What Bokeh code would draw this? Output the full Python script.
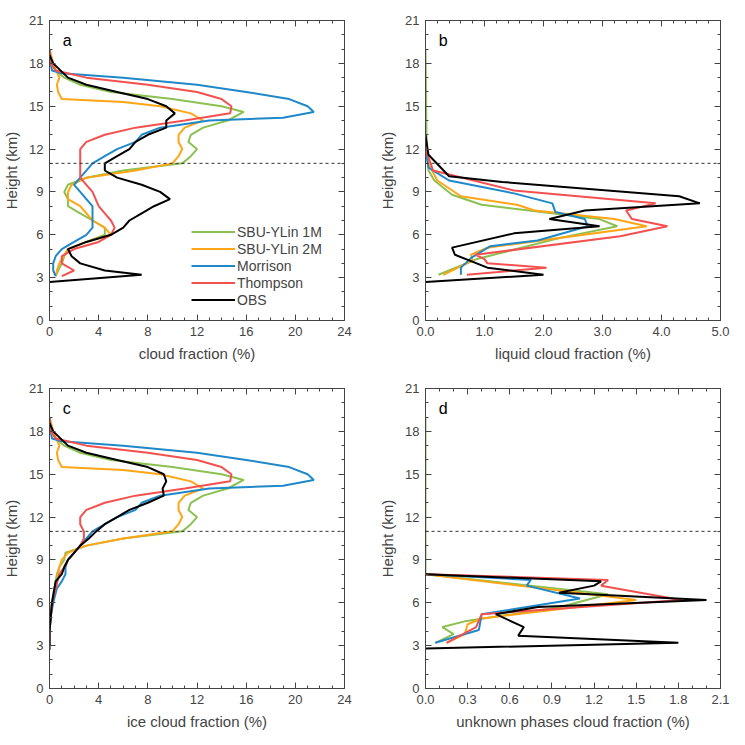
from bokeh.plotting import figure
from bokeh.layouts import gridplot
from bokeh.models import Span, Legend, LegendItem, LinearAxis, FixedTicker, NumeralTickFormatter, Range1d
from bokeh.core.properties import value
from bokeh.embed import file_html
from bokeh.resources import INLINE

names = ["SBU-YLin 1M", "SBU-YLin 2M", "Morrison", "Thompson", "OBS"]
colors = ["#8cc152", "#ffa516", "#1f88c9", "#f2514f", "#000000"]

# Panel a: cloud fraction (%)
a_h_1m = [3.1,3.5,4,4.5,5,5.5,6,6.5,7,7.5,8,8.5,9,9.5,10,10.5,11,11.5,12,12.5,13,13.5,14,14.6,15,15.5,16,16.5,17,17.5,18,19]
a_x_1m = [0.5,0.7,1,1.2,1.5,3,4.5,4.5,3.5,2.5,1.5,1.5,1.2,1.5,3,6,10.8,11.5,12,11.3,11.5,12.5,14.5,15.8,14,10,5,2.5,1.2,0.5,0.2,0]
a_h_2m = [3.1,3.5,4,5,5.5,6,6.5,7,8,8.5,9,9.5,10,10.5,11,11.5,12,12.5,13,13.5,14,14.5,15,15.3,15.5,16,16.5,17,18,19]
a_x_2m = [0.5,0.6,0.8,1.5,3,5,4.5,3.5,2.5,1.5,1.5,1.8,3,7,10,10.5,10.8,10.5,10.5,11,12.5,11.5,9,6,1,0.7,0.6,0.8,0.3,0]
a_h_mo = [3.1,3.5,4,4.5,5,5.5,6,6.5,7,7.5,8,8.5,9,9.5,10,11,11.5,12,12.5,13,13.5,14,14.2,14.6,15,15.5,16,16.5,17,17.3,17.5,18,19]
a_x_mo = [0.5,0.3,0.3,0.5,1,2,3,3.5,3.5,3.5,3.5,3,2.5,2,2.5,3.5,4.5,5.5,7,7.5,9,13,19,21.5,21,19.5,16,12,6,1,0.2,0.1,0]
a_h_th = [3.1,3.5,4,4.5,5,5.5,6,6.5,7,7.5,8,9,9.5,10,11,11.5,12,12.5,13,13.5,14,14.5,15,15.5,16,16.5,17,17.5,18,19]
a_x_th = [1,2,1,1,2,4,5,5.3,5,4.5,4,3.5,3,2.5,2.5,2.5,2.5,3,4.5,7,11,14.7,14.8,14,12,8,3,0.5,0.1,0]
a_h_ob = [2.7,3.2,3.5,4,4.5,5,5.5,6,6.5,7,7.5,8,8.5,9,9.5,10,10.5,11,11.5,12,12.5,13,13.5,14,14.5,15,15.5,16,16.5,17,18,18.6]
a_x_ob = [0,7.5,4.5,2.5,1.8,1.5,3,5,6,6.5,7.5,8.5,9.8,9,7.5,5.5,4.5,4.5,5.5,6.5,7,8,9.5,9.5,10.2,9.5,8,5.5,3,1.5,0.3,0]

# Panel b: liquid cloud fraction (%)
b_h_1m = [3.2,4.3,5.8,6.6,7.1,8.1,8.8,9.8,10.5,12,19]
b_x_1m = [0.22,0.87,2.3,3.25,2.95,0.95,0.45,0.15,0.05,0.02,0]
b_h_2m = [3.2,4.2,4.6,5.1,6.6,7.1,7.7,8.1,8.7,9.8,11,12.5]
b_x_2m = [0.3,0.8,0.77,1.05,3.75,3.2,1.85,1.55,0.6,0.2,0.05,0]
b_h_mo = [3.2,3.7,4.4,5.2,5.6,6.6,7.1,7.6,8.2,8.9,9.8,10.7,12]
b_x_mo = [0.6,0.6,0.78,1.1,1.9,2.75,2.7,2.2,2.15,1.5,0.4,0.05,0]
b_h_th = [3.2,3.7,4.0,4.3,4.6,5.9,6.6,7.1,7.7,8.2,9.1,10.5,12]
b_x_th = [0.7,2.05,1.05,1.0,0.85,3.3,4.1,3.5,3.4,3.9,1.5,0.13,0]
b_h_ob = [2.7,3.2,3.7,4.6,5.1,6.1,6.6,7.1,7.7,8.2,8.7,9.7,10.1,11.6,13]
b_x_ob = [0,2.0,1.05,0.5,0.45,1.5,2.95,2.1,2.7,4.65,4.3,1.3,0.4,0.05,0]

# Panel c: ice cloud fraction (%)
c_h_1m = [3,4,5,6,7,8,8.5,9,9.5,10,10.5,11,11.5,12,12.5,13,13.5,14,14.6,15,15.5,16,16.5,17,17.5,18,19]
c_x_1m = [0,0,0.1,0.2,0.4,0.6,0.8,1.2,1.3,3,6,10.8,11.5,12,11.3,11.5,12.5,14.5,15.8,14,10,5,2.5,1.2,0.5,0.2,0]
c_h_2m = [3,4,5,6,7,8,8.5,9,9.5,10,10.5,11,11.5,12,12.5,13,13.5,14,14.5,15,15.3,15.5,16,16.5,17,18,19]
c_x_2m = [0,0,0.1,0.2,0.5,0.7,0.8,1.0,1.5,3,6,10,10.5,10.8,10.5,10.5,11,12.5,11.5,9,6,1,0.7,0.6,0.8,0.3,0]
c_h_mo = [3,4,5,6,7,7.5,8,8.5,9,9.5,10,10.5,11,11.5,12,12.5,13,13.5,14,14.2,14.6,15,15.5,16,16.5,17,17.3,17.5,18,19]
c_x_mo = [0,0,0.1,0.3,0.6,1,1.3,1.3,1.5,2,2.5,3,3.5,4.5,5.5,7,7.5,9,13,19,21.5,21,19.5,16,12,6,1,0.2,0.1,0]
c_h_th = [3,4,5,6,7,8,8.5,9,9.5,10,10.5,11,11.5,12,12.5,13,13.5,14,14.5,15,15.5,16,16.5,17,17.5,18,19]
c_x_th = [0,0,0.1,0.2,0.5,0.8,1.2,1.5,2,2.5,2.8,2.8,2.5,2.5,3,4.5,7,11,14.7,14.8,14,12,8,3,0.5,0.1,0]
c_h_ob = [2.7,4,5,6,7,7.5,8,8.5,9,9.5,10,10.5,11,11.5,12,12.5,13,13.5,14,14.5,15,15.5,16,16.5,17,18,18.6]
c_x_ob = [0,0,0.1,0.2,0.4,0.5,1,1.2,1.5,2,2.5,3.2,3.8,4.5,5.5,6.5,8,9.3,9.2,9.5,9.3,8,5.5,3,1.5,0.3,0]

# Panel d: unknown phases cloud fraction (%)
d_h_1m = [3.2,3.8,4.3,4.7,5.7,6.6,8,19]
d_x_1m = [0.07,0.2,0.12,0.28,0.96,1.3,0,0]
d_h_2m = [3.2,3.8,4.5,4.9,6.2,6.8,8]
d_x_2m = [0.15,0.28,0.3,0.4,1.5,1.0,0]
d_h_mo = [3.2,4.1,5.2,6.3,7.2,7.6,8]
d_x_mo = [0.07,0.38,0.4,1.1,0.72,0.75,0]
d_h_th = [3.2,4.3,5.2,6.2,7.2,7.6,8]
d_x_th = [0.15,0.36,0.4,1.82,1.25,1.3,0]
d_h_ob = [2.8,3.2,3.7,4.3,5.2,5.7,6.2,6.7,7.2,7.5,8]
d_x_ob = [0,1.8,0.66,0.7,0.5,0.8,2.0,0.95,1.2,1.25,0]

FONT = "Liberation Sans"
AX = "#444444"

def make(letter, xlabel, xmax, xticks, xminor, fmt, series, borders, legend=False):
    l, r, t, b = borders
    p = figure(frame_width=295, frame_height=300, x_range=Range1d(0, xmax), y_range=Range1d(0, 21),
               output_backend="svg", toolbar_location=None,
               min_border_left=l, min_border_right=r, min_border_top=t, min_border_bottom=b)
    p.grid.visible = False
    p.outline_line_color = AX
    p.background_fill_color = "white"
    p.border_fill_color = "white"
    p.add_layout(Span(location=11, dimension="width", line_dash="3 3", line_color="#333333", line_width=1))
    renderers = []
    for (h, x), c in zip(series, colors):
        renderers.append(p.line(x, h, line_color=c, line_width=2))
    p.text([xmax * 0.045], [19.6], text=[letter], text_font=value(FONT), text_font_size="16px",
           text_baseline="middle", text_align="left")
    yt = FixedTicker(ticks=list(range(0, 22, 3)), minor_ticks=list(range(0, 22)))
    xt = FixedTicker(ticks=xticks, minor_ticks=xminor)
    for ax in (p.xaxis[0], p.yaxis[0]):
        ax.major_tick_in = 6; ax.major_tick_out = 0
        ax.minor_tick_in = 3; ax.minor_tick_out = 0
        ax.axis_line_color = AX; ax.major_tick_line_color = AX; ax.minor_tick_line_color = AX
        ax.major_label_text_font = FONT; ax.major_label_text_font_size = "13px"
        ax.axis_label_text_font = FONT; ax.axis_label_text_font_size = "15px"
        ax.axis_label_text_font_style = "normal"
        ax.major_label_standoff = 6
    p.xaxis[0].ticker = xt
    p.yaxis[0].ticker = yt
    if fmt:
        p.xaxis[0].formatter = NumeralTickFormatter(format=fmt)
    p.xaxis[0].axis_label = xlabel
    p.xaxis[0].axis_label_standoff = 6
    p.yaxis[0].axis_label = "Height (km)"
    p.yaxis[0].axis_label_standoff = 6
    for loc, tk in (("right", yt), ("above", xt)):
        ax = LinearAxis(ticker=tk, major_label_text_color=None, axis_line_color=AX,
                        major_tick_in=6, major_tick_out=0, minor_tick_in=3, minor_tick_out=0,
                        major_tick_line_color=AX, minor_tick_line_color=AX)
        p.add_layout(ax, loc)
    if legend:
        items = [LegendItem(label=n, renderers=[r_]) for n, r_ in zip(names, renderers)]
        lg = Legend(items=items, location=(142, 12), border_line_color=None,
                    background_fill_alpha=0, label_text_font=FONT, label_text_font_size="14px",
                    glyph_width=44, spacing=0, padding=2, label_height=17, glyph_height=17,
                    label_standoff=2)
        p.add_layout(lg)
    return p

pa = make("a", "cloud fraction (%)", 24, list(range(0, 25, 4)), list(range(0, 25)), None,
          [(a_h_1m, a_x_1m), (a_h_2m, a_x_2m), (a_h_mo, a_x_mo), (a_h_th, a_x_th), (a_h_ob, a_x_ob)],
          (46, 23, 20, 48), legend=True)
pb = make("b", "liquid cloud fraction (%)", 5, [0, 1, 2, 3, 4, 5], [i * 0.2 for i in range(26)], "0.0",
          [(b_h_1m, b_x_1m), (b_h_2m, b_x_2m), (b_h_mo, b_x_mo), (b_h_th, b_x_th), (b_h_ob, b_x_ob)],
          (58, 12, 20, 48))
pc = make("c", "ice cloud fraction (%)", 24, list(range(0, 25, 4)), list(range(0, 25)), None,
          [(c_h_1m, c_x_1m), (c_h_2m, c_x_2m), (c_h_mo, c_x_mo), (c_h_th, c_x_th), (c_h_ob, c_x_ob)],
          (46, 23, 20, 40))
pd_ = make("d", "unknown phases cloud fraction (%)", 2.1, [i * 0.3 for i in range(8)],
           [i * 0.1 for i in range(22)], "0.0",
           [(d_h_1m, d_x_1m), (d_h_2m, d_x_2m), (d_h_mo, d_x_mo), (d_h_th, d_x_th), (d_h_ob, d_x_ob)],
           (58, 12, 20, 40))

g = gridplot([[pa, pb], [pc, pd_]], toolbar_location=None)
open("out.html", "w").write(file_html(g, INLINE))
